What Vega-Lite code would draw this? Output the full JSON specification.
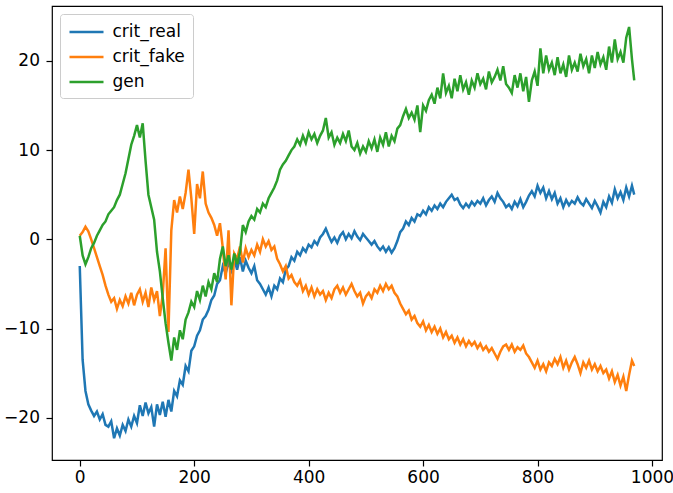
{
"$schema":"https://vega.github.io/schema/vega-lite/v6.json",
"width":610,"height":454,
"autosize":{"type":"none"},
"padding":{"left":52,"top":6,"right":11,"bottom":33},
"background":"white",
"data":{"values":[
{"x":0,"r":-3.0,"f":0.4,"g":0.4},{"x":5,"r":-13.5,"f":0.8,"g":-1.8},{"x":10,"r":-17.0,"f":1.4,"g":-2.8},{"x":15,"r":-18.5,"f":0.9,"g":-2.0},{"x":20,"r":-19.2,"f":0.0,"g":-1.0},{"x":25,"r":-19.8,"f":-1.0,"g":-0.4},{"x":30,"r":-19.3,"f":-2.0,"g":0.4},{"x":35,"r":-20.2,"f":-3.0,"g":1.0},{"x":40,"r":-19.6,"f":-4.0,"g":1.6},{"x":45,"r":-20.8,"f":-5.2,"g":2.0},
{"x":50,"r":-21.0,"f":-6.2,"g":2.8},{"x":55,"r":-20.4,"f":-7.0,"g":3.2},{"x":60,"r":-22.3,"f":-6.6,"g":3.6},{"x":65,"r":-21.2,"f":-7.8,"g":4.4},{"x":70,"r":-22.0,"f":-6.8,"g":5.0},{"x":75,"r":-20.8,"f":-7.5,"g":6.2},{"x":80,"r":-21.5,"f":-6.4,"g":7.4},{"x":85,"r":-20.2,"f":-7.2,"g":9.0},{"x":90,"r":-21.0,"f":-6.0,"g":10.6},{"x":95,"r":-19.8,"f":-7.4,"g":11.6},
{"x":100,"r":-20.6,"f":-6.2,"g":12.8},{"x":105,"r":-18.6,"f":-5.6,"g":11.4},{"x":110,"r":-19.8,"f":-7.0,"g":13.0},{"x":115,"r":-18.3,"f":-6.0,"g":8.8},{"x":120,"r":-19.5,"f":-7.6,"g":5.0},{"x":125,"r":-18.8,"f":-5.4,"g":3.6},{"x":130,"r":-21.0,"f":-6.8,"g":2.2},{"x":135,"r":-18.5,"f":-5.8,"g":-1.4},{"x":140,"r":-19.7,"f":-8.6,"g":-3.6},{"x":145,"r":-18.2,"f":-6.2,"g":-6.6},
{"x":150,"r":-19.9,"f":-1.0,"g":-9.4},{"x":155,"r":-18.0,"f":-10.4,"g":-11.6},{"x":160,"r":-19.3,"f":1.0,"g":-13.6},{"x":165,"r":-17.0,"f":4.4,"g":-11.0},{"x":170,"r":-17.6,"f":3.0,"g":-12.4},{"x":175,"r":-15.8,"f":4.8,"g":-10.2},{"x":180,"r":-16.3,"f":3.4,"g":-11.2},{"x":185,"r":-14.2,"f":5.2,"g":-9.0},{"x":190,"r":-14.8,"f":7.8,"g":-8.2},{"x":195,"r":-12.5,"f":4.6,"g":-7.0},
{"x":200,"r":-12.0,"f":0.6,"g":-7.6},{"x":205,"r":-10.8,"f":6.2,"g":-5.8},{"x":210,"r":-10.2,"f":4.6,"g":-6.8},{"x":215,"r":-9.0,"f":7.6,"g":-5.2},{"x":220,"r":-8.6,"f":4.0,"g":-6.4},{"x":225,"r":-7.9,"f":3.0,"g":-4.8},{"x":230,"r":-6.8,"f":2.4,"g":-5.6},{"x":235,"r":-6.3,"f":1.6,"g":-3.8},{"x":240,"r":-5.0,"f":0.4,"g":-4.8},{"x":245,"r":-4.6,"f":1.8,"g":-2.2},
{"x":250,"r":-3.0,"f":-1.0,"g":-0.8},{"x":255,"r":-3.8,"f":-4.5,"g":-3.0},{"x":260,"r":-2.6,"f":1.0,"g":-1.8},{"x":265,"r":-3.5,"f":-7.4,"g":-3.4},{"x":270,"r":-2.2,"f":-1.6,"g":-1.6},{"x":275,"r":-3.4,"f":-2.2,"g":-2.8},{"x":280,"r":-2.0,"f":-0.8,"g":-1.4},{"x":285,"r":-3.6,"f":-2.6,"g":1.6},{"x":290,"r":-2.4,"f":-1.0,"g":0.8},{"x":295,"r":-3.2,"f":-2.0,"g":2.0},
{"x":300,"r":-3.8,"f":-1.2,"g":2.6},{"x":305,"r":-3.0,"f":-1.8,"g":2.2},{"x":310,"r":-4.6,"f":-0.6,"g":3.4},{"x":315,"r":-5.0,"f":-1.4,"g":3.0},{"x":320,"r":-5.6,"f":0.0,"g":4.0},{"x":325,"r":-6.2,"f":-0.8,"g":3.6},{"x":330,"r":-5.4,"f":-0.2,"g":4.6},{"x":335,"r":-6.4,"f":-1.2,"g":5.2},{"x":340,"r":-5.2,"f":-0.8,"g":5.8},{"x":345,"r":-5.6,"f":-2.2,"g":6.6},
{"x":350,"r":-4.4,"f":-2.8,"g":7.8},{"x":355,"r":-4.8,"f":-3.6,"g":8.4},{"x":360,"r":-3.4,"f":-3.0,"g":8.8},{"x":365,"r":-3.0,"f":-4.4,"g":9.4},{"x":370,"r":-2.0,"f":-4.0,"g":10.0},{"x":375,"r":-2.4,"f":-4.8,"g":10.4},{"x":380,"r":-1.4,"f":-5.2,"g":11.2},{"x":385,"r":-1.8,"f":-4.6,"g":10.6},{"x":390,"r":-1.0,"f":-5.8,"g":11.6},{"x":395,"r":-1.4,"f":-5.2,"g":10.8},
{"x":400,"r":-0.6,"f":-6.2,"g":12.0},{"x":405,"r":-0.9,"f":-5.4,"g":11.2},{"x":410,"r":-0.2,"f":-6.4,"g":11.8},{"x":415,"r":-0.6,"f":-5.6,"g":10.8},{"x":420,"r":0.2,"f":-6.2,"g":11.6},{"x":425,"r":0.6,"f":-5.8,"g":12.2},{"x":430,"r":1.2,"f":-6.8,"g":13.6},{"x":435,"r":0.4,"f":-6.0,"g":11.4},{"x":440,"r":-0.3,"f":-6.6,"g":12.0},{"x":445,"r":0.2,"f":-5.6,"g":10.6},
{"x":450,"r":-0.4,"f":-5.2,"g":11.4},{"x":455,"r":0.4,"f":-6.0,"g":10.8},{"x":460,"r":0.8,"f":-5.4,"g":11.8},{"x":465,"r":0.0,"f":-6.2,"g":11.0},{"x":470,"r":0.6,"f":-5.6,"g":12.2},{"x":475,"r":0.1,"f":-5.0,"g":10.4},{"x":480,"r":0.9,"f":-5.8,"g":10.0},{"x":485,"r":0.3,"f":-6.4,"g":10.8},{"x":490,"r":-0.1,"f":-6.0,"g":9.6},{"x":495,"r":0.6,"f":-7.2,"g":10.4},
{"x":500,"r":0.2,"f":-6.4,"g":9.8},{"x":505,"r":-0.2,"f":-6.0,"g":11.0},{"x":510,"r":-0.6,"f":-6.6,"g":10.2},{"x":515,"r":-0.2,"f":-5.6,"g":11.2},{"x":520,"r":-0.8,"f":-6.0,"g":9.8},{"x":525,"r":-1.2,"f":-5.2,"g":11.4},{"x":530,"r":-0.8,"f":-5.8,"g":10.6},{"x":535,"r":-1.4,"f":-5.0,"g":12.0},{"x":540,"r":-0.9,"f":-5.6,"g":10.4},{"x":545,"r":-1.5,"f":-5.2,"g":11.6},
{"x":550,"r":-1.0,"f":-6.0,"g":11.0},{"x":555,"r":-0.2,"f":-6.4,"g":12.4},{"x":560,"r":0.8,"f":-7.2,"g":12.8},{"x":565,"r":1.2,"f":-7.8,"g":13.8},{"x":570,"r":2.0,"f":-8.4,"g":14.6},{"x":575,"r":1.6,"f":-8.0,"g":13.6},{"x":580,"r":2.4,"f":-9.0,"g":14.2},{"x":585,"r":2.0,"f":-8.6,"g":13.4},{"x":590,"r":2.8,"f":-9.4,"g":15.0},{"x":595,"r":2.6,"f":-9.8,"g":12.0},
{"x":600,"r":3.2,"f":-9.2,"g":15.0},{"x":605,"r":2.8,"f":-10.2,"g":14.4},{"x":610,"r":3.6,"f":-9.6,"g":15.6},{"x":615,"r":3.2,"f":-10.4,"g":16.2},{"x":620,"r":3.8,"f":-9.8,"g":15.2},{"x":625,"r":3.4,"f":-10.6,"g":17.0},{"x":630,"r":4.0,"f":-10.0,"g":15.8},{"x":635,"r":3.6,"f":-11.0,"g":18.6},{"x":640,"r":4.2,"f":-10.4,"g":16.4},{"x":645,"r":4.6,"f":-11.2,"g":17.2},
{"x":650,"r":5.0,"f":-10.8,"g":15.8},{"x":655,"r":4.4,"f":-11.6,"g":18.0},{"x":660,"r":4.6,"f":-11.0,"g":16.6},{"x":665,"r":3.9,"f":-11.8,"g":18.4},{"x":670,"r":3.5,"f":-11.2,"g":16.8},{"x":675,"r":4.0,"f":-12.0,"g":17.6},{"x":680,"r":3.6,"f":-11.4,"g":16.2},{"x":685,"r":4.2,"f":-11.9,"g":17.8},{"x":690,"r":3.8,"f":-11.5,"g":17.0},{"x":695,"r":4.3,"f":-12.2,"g":18.6},
{"x":700,"r":4.0,"f":-11.7,"g":17.4},{"x":705,"r":4.6,"f":-12.4,"g":18.0},{"x":710,"r":3.8,"f":-12.0,"g":16.8},{"x":715,"r":4.4,"f":-12.6,"g":18.8},{"x":720,"r":4.8,"f":-12.2,"g":17.6},{"x":725,"r":4.2,"f":-12.8,"g":18.2},{"x":730,"r":5.2,"f":-13.4,"g":19.0},{"x":735,"r":4.6,"f":-12.6,"g":17.8},{"x":740,"r":4.2,"f":-12.0,"g":19.4},{"x":745,"r":3.6,"f":-11.8,"g":17.4},
{"x":750,"r":3.9,"f":-12.4,"g":17.0},{"x":755,"r":3.4,"f":-11.8,"g":16.4},{"x":760,"r":4.2,"f":-12.6,"g":18.4},{"x":765,"r":3.7,"f":-12.1,"g":17.0},{"x":770,"r":4.5,"f":-12.4,"g":18.6},{"x":775,"r":3.6,"f":-11.9,"g":16.6},{"x":780,"r":4.2,"f":-12.8,"g":18.2},{"x":785,"r":4.9,"f":-13.2,"g":15.4},{"x":790,"r":5.4,"f":-13.8,"g":17.8},{"x":795,"r":4.8,"f":-14.4,"g":18.8},
{"x":800,"r":6.0,"f":-13.6,"g":17.2},{"x":805,"r":5.2,"f":-14.6,"g":21.4},{"x":810,"r":5.8,"f":-14.0,"g":18.6},{"x":815,"r":4.6,"f":-14.8,"g":20.6},{"x":820,"r":5.4,"f":-13.8,"g":19.0},{"x":825,"r":4.5,"f":-14.2,"g":19.8},{"x":830,"r":5.2,"f":-13.4,"g":18.4},{"x":835,"r":4.0,"f":-14.0,"g":20.4},{"x":840,"r":4.6,"f":-13.2,"g":18.6},{"x":845,"r":3.6,"f":-14.4,"g":19.6},
{"x":850,"r":4.4,"f":-13.6,"g":18.2},{"x":855,"r":3.8,"f":-14.6,"g":20.6},{"x":860,"r":4.3,"f":-13.8,"g":19.0},{"x":865,"r":4.0,"f":-13.2,"g":19.8},{"x":870,"r":4.7,"f":-14.0,"g":18.8},{"x":875,"r":4.1,"f":-15.0,"g":20.8},{"x":880,"r":3.8,"f":-13.8,"g":19.4},{"x":885,"r":4.5,"f":-14.4,"g":20.2},{"x":890,"r":4.0,"f":-13.6,"g":18.6},{"x":895,"r":3.5,"f":-14.6,"g":20.6},
{"x":900,"r":4.3,"f":-14.0,"g":19.2},{"x":905,"r":3.7,"f":-14.8,"g":21.0},{"x":910,"r":3.0,"f":-14.2,"g":19.6},{"x":915,"r":4.2,"f":-15.0,"g":20.4},{"x":920,"r":3.6,"f":-14.6,"g":19.0},{"x":925,"r":4.8,"f":-15.6,"g":21.6},{"x":930,"r":4.1,"f":-14.8,"g":19.8},{"x":935,"r":5.6,"f":-16.0,"g":22.4},{"x":940,"r":4.6,"f":-15.2,"g":20.2},{"x":945,"r":5.3,"f":-16.4,"g":21.0},
{"x":950,"r":4.4,"f":-15.4,"g":19.8},{"x":955,"r":5.8,"f":-17.0,"g":22.6},{"x":960,"r":4.8,"f":-15.2,"g":23.8},{"x":965,"r":6.0,"f":-13.6,"g":20.2},{"x":969,"r":5.0,"f":-14.2,"g":17.8}
]},
"encoding":{
 "x":{"field":"x","type":"quantitative","scale":{"domain":[-48.5,1017.5],"nice":false,"zero":false},"axis":{"values":[0,200,400,600,800,1000],"format":"d","title":null,"labelPadding":3}}
},
"layer":[
 {"mark":{"type":"line","strokeWidth":2.5,"clip":true},"encoding":{"y":{"field":"r","type":"quantitative","scale":{"domain":[-24.74,26.15],"nice":false,"zero":false},"axis":{"values":[-20,-10,0,10,20],"format":"d","title":null,"labelPadding":6.5}},"color":{"datum":"crit_real","type":"nominal","scale":{"domain":["crit_real","crit_fake","gen"],"range":["#1f77b4","#ff7f0e","#2ca02c"]},"legend":{"title":null}}}},
 {"mark":{"type":"line","strokeWidth":2.5,"clip":true},"encoding":{"y":{"field":"f","type":"quantitative"},"color":{"datum":"crit_fake","type":"nominal"}}},
 {"mark":{"type":"line","strokeWidth":2.5,"clip":true},"encoding":{"y":{"field":"g","type":"quantitative"},"color":{"datum":"gen","type":"nominal"}}}
],
"config":{
 "font":"DejaVu Sans",
 "view":{"stroke":"black","strokeWidth":1.2},
 "axis":{"domain":false,"grid":false,"ticks":true,"tickColor":"black","tickSize":6,"tickWidth":1.2,"labelFont":"DejaVu Sans","labelFontSize":17,"labelColor":"black","labelFlush":false},
 "legend":{"orient":"none","legendX":8,"legendY":8,"symbolType":"M-2,0H2","symbolSize":289,"symbolOffset":8.5,"symbolStrokeWidth":2.5,"labelFont":"DejaVu Sans","labelFontSize":17,"labelColor":"black","labelOffset":16,"padding":8,"rowPadding":7,"fillColor":"rgba(255,255,255,0.8)","strokeColor":"#cccccc","strokeWidth":1,"cornerRadius":3}
}
}
